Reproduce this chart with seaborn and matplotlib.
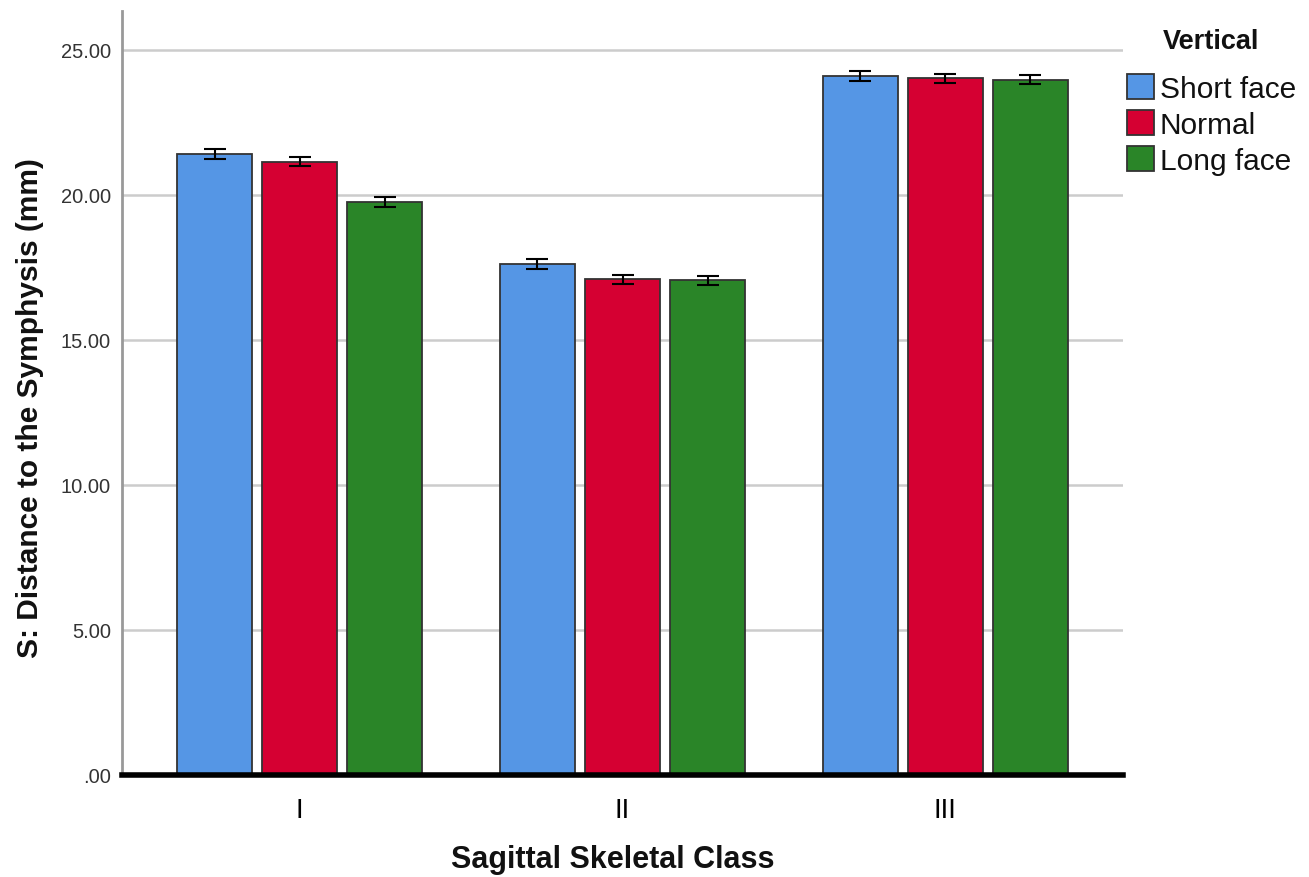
import pandas as pd
import matplotlib.pyplot as plt
import seaborn as sns

# chart values
classes = ["I", "II", "III"]
vertical = ["Short face", "Normal", "Long face"]
shortFace = [21.41, 17.62, 24.10]
normal = [21.14, 17.09, 24.02]
longFace = [19.75, 17.06, 23.97]
shortFaceErr = [0.18, 0.18, 0.18]
normalErr = [0.16, 0.16, 0.16]
longFaceErr = [0.17, 0.16, 0.16]
yTicks = [0, 5, 10, 15, 20, 25]
yTickLabels = [".00", "5.00", "10.00", "15.00", "20.00", "25.00"]

colours = ["#5596E5", "#D50032", "#2A8528"]

if __name__ == '__main__':

    sns.set_style("white")
    plt.rcParams['font.family'] = ['Liberation Sans', 'DejaVu Sans']
    plt.rcParams['text.color'] = '#111111'
    plt.rcParams['axes.labelcolor'] = '#111111'

    rows = []
    for name, vals, errs in zip(vertical, [shortFace, normal, longFace],
                                [shortFaceErr, normalErr, longFaceErr]):
        for c, v, e in zip(classes, vals, errs):
            rows.append({"Class": c, "Vertical": name, "Mean": v, "Err": e})
    df = pd.DataFrame(rows)

    fig = plt.figure(figsize=(13.09, 8.78), dpi=100)
    ax = fig.add_axes([122 / 1309, 1 - 776 / 878, (1123 - 122) / 1309, (776 - 12) / 878])

    sns.barplot(data=df, x="Class", y="Mean", hue="Vertical", hue_order=vertical,
                order=classes, palette=colours, errorbar=None, width=0.79, gap=0.11,
                edgecolor="#333333", linewidth=1.3, saturation=1, ax=ax, zorder=3)

    # error bars on top of each bar
    for container, name in zip(ax.containers, vertical):
        sub = df[df["Vertical"] == name].set_index("Class").loc[classes]
        xs = [b.get_x() + b.get_width() / 2 for b in container]
        ax.errorbar(xs, sub["Mean"], yerr=sub["Err"], fmt="none", ecolor="black",
                    elinewidth=1.5, capsize=8, capthick=1.5, zorder=4)

    ax.set_xlim(-0.55, 2.55)
    ax.set_ylim(0, 26.34)
    ax.set_yticks(yTicks)
    ax.set_yticklabels(yTickLabels)
    ax.yaxis.grid(True, color="#CCCCCC", linewidth=1.8, zorder=0)
    ax.set_axisbelow(True)

    for s in ["top", "right"]:
        ax.spines[s].set_visible(False)
    ax.spines["left"].set_color("#999999")
    ax.spines["left"].set_linewidth(2)
    ax.spines["bottom"].set_color("black")
    ax.spines["bottom"].set_linewidth(4)
    ax.spines["bottom"].set_zorder(5)

    ax.tick_params(axis="y", length=0, labelsize=14.5, labelcolor="#333333", pad=8)
    ax.tick_params(axis="x", length=0, labelsize=20, labelcolor="#000000", pad=16)

    ax.set_xlabel("Sagittal Skeletal Class", fontsize=22, fontweight="bold")
    ax.xaxis.set_label_coords(0.49, -0.09)
    ax.set_ylabel("S: Distance to the Symphysis (mm)", fontsize=21.5, fontweight="bold")
    ax.yaxis.set_label_coords(-0.078, 0.482)

    sns.move_legend(ax, "upper left", bbox_to_anchor=(1115 / 1309, 1 - 17 / 878),
                    bbox_transform=fig.transFigure, title="Vertical", frameon=False,
                    fontsize=21.5, title_fontsize=19.5, handlelength=0.9, handleheight=0.9,
                    handletextpad=0.2, labelspacing=0.25, borderaxespad=0)
    leg = ax.get_legend()
    leg.get_title().set_fontweight("bold")
    # a bit more room under the legend title
    leg._legend_box.sep = 0.25 * 21.5 + 9

    fig.savefig("out.png", dpi=100)
